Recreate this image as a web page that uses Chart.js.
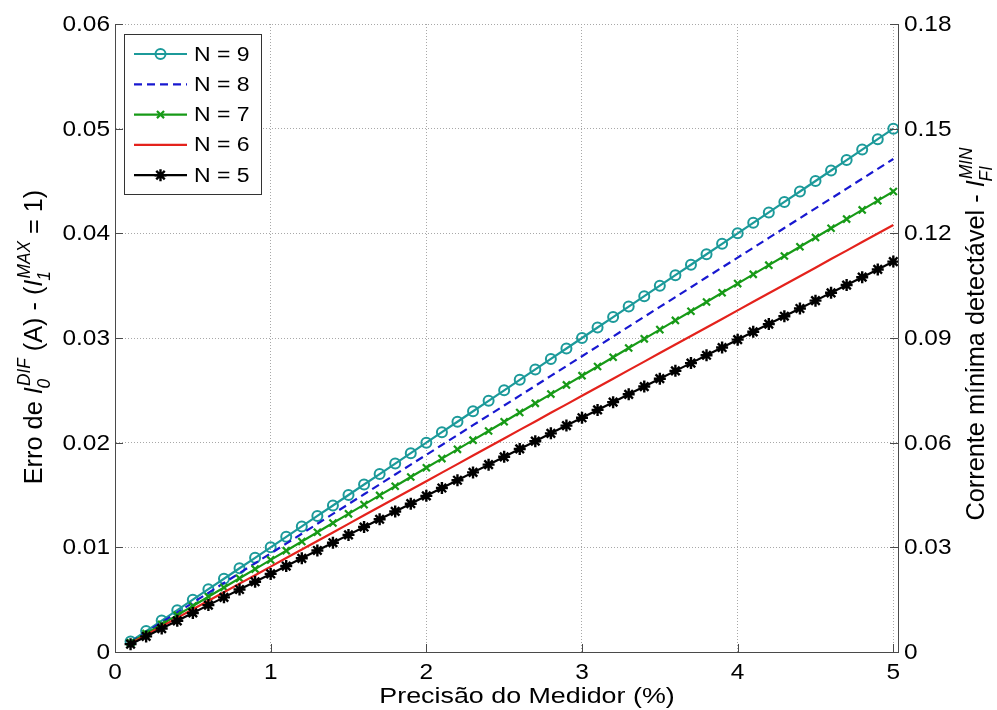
<!DOCTYPE html>
<html>
<head>
<meta charset="utf-8">
<script src="https://cdn.jsdelivr.net/npm/chart.js@4.4.1/dist/chart.umd.min.js"></script>
<style>
  html, body { margin: 0; padding: 0; background: #fff; }
</style>
</head>
<body>
<canvas id="chart" width="997" height="710"></canvas>
<script>
// Precisão do Medidor (%)
const precisao = [0.1, 0.2, 0.3, 0.4, 0.5, 0.6, 0.7, 0.8, 0.9, 1.0,
  1.1, 1.2, 1.3, 1.4, 1.5, 1.6, 1.7, 1.8, 1.9, 2.0,
  2.1, 2.2, 2.3, 2.4, 2.5, 2.6, 2.7, 2.8, 2.9, 3.0,
  3.1, 3.2, 3.3, 3.4, 3.5, 3.6, 3.7, 3.8, 3.9, 4.0,
  4.1, 4.2, 4.3, 4.4, 4.5, 4.6, 4.7, 4.8, 4.9, 5.0];

const erroN9 = [0.001, 0.002, 0.003, 0.004, 0.005, 0.006, 0.007, 0.008, 0.009, 0.010,
  0.011, 0.012, 0.013, 0.014, 0.015, 0.016, 0.017, 0.018, 0.019, 0.020,
  0.021, 0.022, 0.023, 0.024, 0.025, 0.026, 0.027, 0.028, 0.029, 0.030,
  0.031, 0.032, 0.033, 0.034, 0.035, 0.036, 0.037, 0.038, 0.039, 0.040,
  0.041, 0.042, 0.043, 0.044, 0.045, 0.046, 0.047, 0.048, 0.049, 0.050];

const erroN8 = [0.00094, 0.00188, 0.00283, 0.00377, 0.00471, 0.00565, 0.00659, 0.00754, 0.00848, 0.00942,
  0.01036, 0.0113, 0.01225, 0.01319, 0.01413, 0.01507, 0.01601, 0.01696, 0.0179, 0.01884,
  0.01978, 0.02072, 0.02167, 0.02261, 0.02355, 0.02449, 0.02543, 0.02638, 0.02732, 0.02826,
  0.0292, 0.03014, 0.03109, 0.03203, 0.03297, 0.03391, 0.03485, 0.0358, 0.03674, 0.03768,
  0.03862, 0.03956, 0.04051, 0.04145, 0.04239, 0.04333, 0.04427, 0.04522, 0.04616, 0.0471];

const erroN7 = [0.00088, 0.00176, 0.00264, 0.00352, 0.0044, 0.00528, 0.00616, 0.00704, 0.00792, 0.0088,
  0.00968, 0.01056, 0.01144, 0.01232, 0.0132, 0.01408, 0.01496, 0.01584, 0.01672, 0.0176,
  0.01848, 0.01936, 0.02024, 0.02112, 0.022, 0.02288, 0.02376, 0.02464, 0.02552, 0.0264,
  0.02728, 0.02816, 0.02904, 0.02992, 0.0308, 0.03168, 0.03256, 0.03344, 0.03432, 0.0352,
  0.03608, 0.03696, 0.03784, 0.03872, 0.0396, 0.04048, 0.04136, 0.04224, 0.04312, 0.044];

const erroN6 = [0.00082, 0.00163, 0.00245, 0.00326, 0.00408, 0.0049, 0.00571, 0.00653, 0.00734, 0.00816,
  0.00898, 0.00979, 0.01061, 0.01142, 0.01224, 0.01306, 0.01387, 0.01469, 0.0155, 0.01632,
  0.01714, 0.01795, 0.01877, 0.01958, 0.0204, 0.02122, 0.02203, 0.02285, 0.02366, 0.02448,
  0.0253, 0.02611, 0.02693, 0.02774, 0.02856, 0.02938, 0.03019, 0.03101, 0.03182, 0.03264,
  0.03346, 0.03427, 0.03509, 0.0359, 0.03672, 0.03754, 0.03835, 0.03917, 0.03998, 0.0408];

const erroN5 = [0.00075, 0.00149, 0.00224, 0.00298, 0.00373, 0.00448, 0.00522, 0.00597, 0.00671, 0.00746,
  0.00821, 0.00895, 0.0097, 0.01044, 0.01119, 0.01194, 0.01268, 0.01343, 0.01417, 0.01492,
  0.01567, 0.01641, 0.01716, 0.0179, 0.01865, 0.0194, 0.02014, 0.02089, 0.02163, 0.02238,
  0.02313, 0.02387, 0.02462, 0.02536, 0.02611, 0.02686, 0.0276, 0.02835, 0.02909, 0.02984,
  0.03059, 0.03133, 0.03208, 0.03282, 0.03357, 0.03432, 0.03506, 0.03581, 0.03655, 0.0373];

const seriesLabels = ["N = 9", "N = 8", "N = 7", "N = 6", "N = 5"];
const xTicks = [0, 1, 2, 3, 4, 5];
const yLeftTicks = [0, 0.01, 0.02, 0.03, 0.04, 0.05, 0.06];
const yRightTicks = [0, 0.03, 0.06, 0.09, 0.12, 0.15, 0.18];

const FONT = "'Liberation Sans', Arial, sans-serif";
const AXIS_COLOR = "#4a4a4a";
const GRID_COLOR = "#a8a8a8";

function pts(ys) {
    return precisao.map((x, i) => ({ x: x, y: ys[i] }));
}

function useTicks(values) {
    return scale => { scale.ticks = values.map(v => ({ value: v })); };
}

function drawText(ctx, str, x, y, size, align, sx) {
    ctx.save();
    ctx.font = size + "px " + FONT;
    ctx.fillStyle = "#000";
    ctx.textAlign = align;
    ctx.textBaseline = "middle";
    ctx.translate(x, y);
    ctx.scale(sx, 1);
    ctx.fillText(str, 0, 0);
    ctx.restore();
}

// rotated axis title with italic I, superscript and subscript
function drawRich(ctx, parts, cy, baseX, size, stretchX, stretchLen) {
    const small = Math.round(size * 0.68);
    const norm = size + "px " + FONT;
    const ital = "italic " + size + "px " + FONT;
    const italSmall = "italic " + small + "px " + FONT;
    let w = 0;
    parts.forEach(p => {
        ctx.font = p.it ? ital : norm;
        let pw = ctx.measureText(p.t).width;
        if (p.sup || p.sub) {
            ctx.font = italSmall;
            pw += Math.max(ctx.measureText(p.sup || "").width, ctx.measureText(p.sub || "").width) + 1;
        }
        p.w = pw;
        w += pw;
    });
    ctx.save();
    ctx.fillStyle = "#000";
    ctx.textBaseline = "alphabetic";
    ctx.textAlign = "left";
    ctx.translate(baseX, cy);
    ctx.scale(stretchX, 1);
    ctx.rotate(-Math.PI / 2);
    ctx.scale(stretchLen, 1);
    let x = -w / 2;
    parts.forEach(p => {
        ctx.font = p.it ? ital : norm;
        ctx.fillText(p.t, x, 0);
        let adv = ctx.measureText(p.t).width;
        if (p.sup || p.sub) {
            ctx.font = italSmall;
            if (p.sup) ctx.fillText(p.sup, x + adv + 1, -size * 0.45);
            if (p.sub) ctx.fillText(p.sub, x + adv - 1, size * 0.3);
        }
        x += p.w;
    });
    ctx.restore();
}

const decorPlugin = {
    id: "decor",
    afterDraw(chart) {
        const ctx = chart.ctx;
        const area = chart.chartArea;
        const sx = chart.scales.x, yl = chart.scales.y, yr = chart.scales.y2;

        // inward tick marks
        ctx.save();
        ctx.strokeStyle = AXIS_COLOR;
        ctx.lineWidth = 1;
        ctx.beginPath();
        sx.ticks.forEach(t => {
            const p = Math.round(sx.getPixelForValue(t.value)) + 0.5;
            ctx.moveTo(p, area.bottom); ctx.lineTo(p, area.bottom - 8);
        });
        yl.ticks.forEach(t => {
            const p = Math.round(yl.getPixelForValue(t.value)) + 0.5;
            ctx.moveTo(area.left, p); ctx.lineTo(area.left + 8, p);
        });
        yr.ticks.forEach(t => {
            const p = Math.round(yr.getPixelForValue(t.value)) + 0.5;
            ctx.moveTo(area.right, p); ctx.lineTo(area.right - 8, p);
        });
        ctx.stroke();
        ctx.restore();

        // tick labels
        const fmt = v => String(Number(v.toFixed(3)));
        sx.ticks.forEach(t => drawText(ctx, fmt(t.value), sx.getPixelForValue(t.value), 673, 22, "center", 1.11));
        yl.ticks.forEach(t => drawText(ctx, fmt(t.value), area.left - 5, yl.getPixelForValue(t.value) + 1, 22, "right", 1.11));
        yr.ticks.forEach(t => drawText(ctx, fmt(t.value), area.right + 6, yr.getPixelForValue(t.value) + 1, 22, "left", 1.11));

        // axis titles
        drawText(ctx, "Precisão do Medidor (%)", 527, 697, 22, "center", 1.22);
        drawRich(ctx, [
            { t: "Erro de " },
            { t: "I", it: true, sup: "DIF", sub: "0" },
            { t: " (A) - (" },
            { t: "I", it: true, sup: "MAX", sub: "1" },
            { t: " = 1)" }
        ], 337, 42, 22, 1.2, 1.15);
        drawRich(ctx, [
            { t: "Corrente mínima detectável - " },
            { t: "I", it: true, sup: "MIN", sub: "FI" }
        ], 334, 984, 22, 1.2, 1.15);

        // legend box
        const lx = 124, ly = 34, lw = 137, lh = 160;
        ctx.save();
        ctx.fillStyle = "#fff";
        ctx.fillRect(lx, ly, lw, lh);
        ctx.strokeStyle = "#333";
        ctx.lineWidth = 1;
        ctx.strokeRect(lx + 0.5, ly + 0.5, lw, lh);
        chart.data.datasets.forEach((ds, i) => {
            const y = 54 + i * 30.3;
            ctx.save();
            ctx.strokeStyle = ds.borderColor;
            ctx.lineWidth = ds.borderWidth;
            ctx.setLineDash(ds.borderDash || []);
            ctx.beginPath();
            ctx.moveTo(134, y); ctx.lineTo(187, y);
            ctx.stroke();
            ctx.restore();
            if (ds.pointRadius > 0) {
                ctx.save();
                ctx.strokeStyle = ds.pointBorderColor;
                ctx.fillStyle = ds.pointBackgroundColor;
                ctx.lineWidth = ds.pointBorderWidth;
                Chart.helpers.drawPoint(ctx, {
                    pointStyle: ds.pointStyle, radius: ds.pointRadius, rotation: 0,
                    borderWidth: ds.pointBorderWidth
                }, 160.5, y);
                ctx.restore();
            }
            drawText(ctx, ds.label, 194, y + 1, 20, "left", 1.15);
        });
        ctx.restore();
    }
};

const gridColor = c => (c.tick && c.tick.value === 0) ? "rgba(0,0,0,0)" : GRID_COLOR;

new Chart(document.getElementById("chart").getContext("2d"), {
    type: "line",
    data: {
        datasets: [
            {
                label: seriesLabels[0], data: pts(erroN9), order: 5,
                borderColor: "#1c9a9a", borderWidth: 2.2,
                pointStyle: "circle", pointRadius: 5, pointBorderWidth: 2,
                pointBorderColor: "#1c9a9a", pointBackgroundColor: "rgba(0,0,0,0)"
            },
            {
                label: seriesLabels[1], data: pts(erroN8), order: 4,
                borderColor: "#1818d0", borderWidth: 2.2, borderDash: [8, 5],
                pointRadius: 0
            },
            {
                label: seriesLabels[2], data: pts(erroN7), order: 3,
                borderColor: "#179a17", borderWidth: 2.2,
                pointStyle: "crossRot", pointRadius: 5, pointBorderWidth: 2.2,
                pointBorderColor: "#179a17", pointBackgroundColor: "#179a17"
            },
            {
                label: seriesLabels[3], data: pts(erroN6), order: 2,
                borderColor: "#e4221c", borderWidth: 2.2,
                pointRadius: 0
            },
            {
                label: seriesLabels[4], data: pts(erroN5), order: 1,
                borderColor: "#000000", borderWidth: 2.2,
                pointStyle: "star", pointRadius: 6, pointBorderWidth: 2.4,
                pointBorderColor: "#000000", pointBackgroundColor: "#000000"
            }
        ]
    },
    options: {
        responsive: false,
        animation: false,
        layout: { padding: { top: 24, left: 0, right: 0, bottom: 0 } },
        elements: { line: { tension: 0 } },
        plugins: { legend: { display: false }, tooltip: { enabled: false } },
        scales: {
            x: {
                type: "linear", min: 0, max: 5.03,
                afterBuildTicks: useTicks(xTicks),
                afterFit: s => { s.height = 58; },
                ticks: { display: false },
                grid: { color: gridColor, drawTicks: false, tickLength: 0 },
                border: { display: true, color: AXIS_COLOR, width: 1, dash: [1, 2] }
            },
            y: {
                type: "linear", position: "left", min: 0, max: 0.06,
                afterBuildTicks: useTicks(yLeftTicks),
                afterFit: s => { s.width = 115; },
                ticks: { display: false },
                grid: { color: gridColor, drawTicks: false, tickLength: 0 },
                border: { display: true, color: AXIS_COLOR, width: 1, dash: [1, 2] }
            },
            y2: {
                type: "linear", position: "right", min: 0, max: 0.18,
                afterBuildTicks: useTicks(yRightTicks),
                afterFit: s => { s.width = 99; },
                ticks: { display: false },
                grid: { display: false, drawTicks: false, tickLength: 0 },
                border: { display: true, color: AXIS_COLOR, width: 1 }
            }
        }
    },
    plugins: [decorPlugin]
});
</script>
</body>
</html>
